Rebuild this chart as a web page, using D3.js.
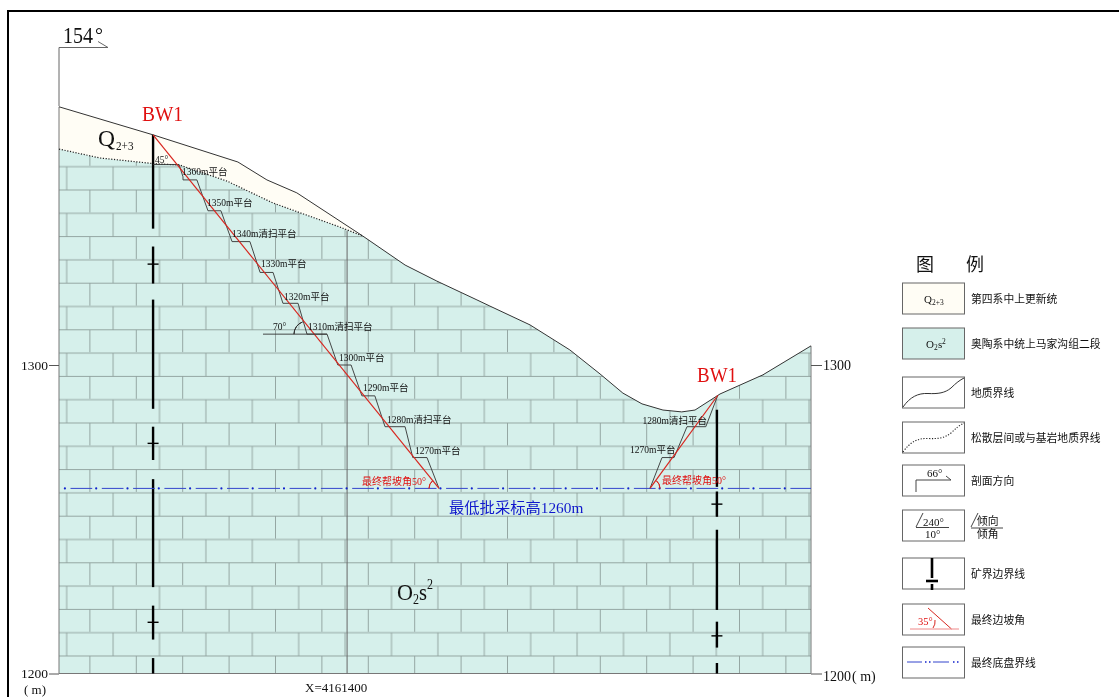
<!DOCTYPE html>
<html>
<head>
<meta charset="utf-8">
<script src="https://cdn.jsdelivr.net/npm/d3@7"></script>
<style>
  html, body { margin: 0; background: #fff; }
  svg { display: block; filter: blur(0.3px); }
  text { font-family: "Liberation Serif", "Noto Sans CJK SC", serif; fill: #111; }
</style>
</head>
<body>
<div id="chart"></div>
<script>
// 地表线 (distance m, elevation m)
const surfaceDist = [0, 30.5, 58, 67.4, 77.1, 98.5, 112.2, 122.5, 135.5, 139.7, 152.7, 165.6, 175.4, 182.8, 189, 195.8, 201.9, 206.2, 214.3, 228.2, 243.8];
const surfaceElev = [1383.7, 1374.6, 1365.8, 1360, 1355.8, 1341.8, 1332.4, 1327.2, 1321.1, 1319.1, 1313, 1304.9, 1297.1, 1290.9, 1287.4, 1285.4, 1284.8, 1285.4, 1290.6, 1296.8, 1306.2];
// 松散层底界
const contactDist = [0, 13.3, 30.5, 39.2, 54.5, 69.4, 91.1, 98.5];
const contactElev = [1370, 1367.1, 1365.3, 1364.8, 1359.6, 1352.5, 1344.7, 1341.8];
// 左帮台阶
const benchLevels = [1360, 1350, 1340, 1330, 1320, 1310, 1300, 1290, 1280, 1270];
const benchFrom = [40.2, 48.3, 56.1, 65.2, 72.6, 80.4, 90.4, 98.2, 105.7, 114.7];
const benchTo = [44.7, 52.5, 61.9, 69.4, 77.5, 86.9, 94.7, 102.4, 112.2, 119.3];
const benchNames = ['1360m平台', '1350m平台', '1340m清扫平台', '1330m平台', '1320m平台', '1310m清扫平台', '1300m平台', '1290m平台', '1280m清扫平台', '1270m平台'];
// 右帮台阶
const rightLevels = [1280, 1270];
const rightFrom = [203.6, 195.5];
const rightTo = [209.7, 199.4];
const rightNames = ['1280m清扫平台', '1270m平台'];
const tickValues = [1200, 1300];
const floorElev = 1260;
const legendNames = ['第四系中上更新统', '奥陶系中统上马家沟组二段', '地质界线', '松散层间或与基岩地质界线', '剖面方向', '', '矿界边界线', '最终边坡角', '最终底盘界线'];
const legendTops = [283, 328, 377, 422, 465, 510, 558, 604, 647];

const svg = d3.select('#chart').append('svg').attr('width', 1119).attr('height', 697);
const x = d3.scaleLinear().domain([0, 243.8]).range([59, 811]);
const y = d3.scaleLinear().domain([1200, 1300]).range([673.5, 365]);

const surface = surfaceDist.map((d, i) => [x(d), y(surfaceElev[i])]);
const contact = contactDist.map((d, i) => [x(d), y(contactElev[i])]);
const line = d3.line();

// 砖块花纹
const pat = svg.append('defs').append('pattern').attr('id', 'brick')
  .attr('patternUnits', 'userSpaceOnUse').attr('x', 65.7).attr('y', 165.7)
  .attr('width', 46.4).attr('height', 46.6);
pat.append('rect').attr('width', 46.4).attr('height', 46.6).attr('fill', '#d6f0eb');
pat.append('path').attr('d', 'M0 1H46.4M0 24.3H46.4M1 1V24.3M24.2 24.3V46.6')
  .attr('stroke', '#8d9e9b').attr('stroke-width', 0.9).attr('fill', 'none');

// 岩层
const rock = contact.concat(surface.slice(6), [[x(243.8), y(1200)], [x(0), y(1200)]]);
svg.append('path').attr('d', line(rock) + 'Z').attr('fill', 'url(#brick)');
const loose = surface.slice(0, 6).concat(contact.slice().reverse());
svg.append('path').attr('d', line(loose) + 'Z').attr('fill', '#fffdf5');

// 边框
svg.append('path').attr('d', 'M8 697V11H1119').attr('fill', 'none').attr('stroke', '#000').attr('stroke-width', 2);

// 图幅边线
svg.append('path').attr('d', line([[x(0), surface[0][1]], [x(0), y(1200)], [x(243.8), y(1200)], [x(243.8), y(1306.2)]]))
  .attr('fill', 'none').attr('stroke', '#777').attr('stroke-width', 1);
svg.append('path').attr('d', line([[x(93.4), y(1343.5)], [x(93.4), y(1200)]]))
  .attr('stroke', '#666').attr('stroke-width', 1).attr('fill', 'none');

// 地表线和松散层界线
svg.append('path').attr('d', line(surface)).attr('fill', 'none').attr('stroke', '#333').attr('stroke-width', 1);
svg.append('path').attr('d', line(contact)).attr('fill', 'none').attr('stroke', '#222')
  .attr('stroke-width', 1.2).attr('stroke-dasharray', '1.2 1.6');

// 坐标轴
const leftAxis = d3.axisLeft(y).tickValues(tickValues).tickSize(10).tickPadding(1).tickFormat(d3.format('d'));
const rightAxis = d3.axisRight(y).tickValues(tickValues).tickSize(11).tickPadding(1).tickFormat(d3.format('d'));
const leftG = svg.append('g').attr('transform', `translate(${x(0)},0)`).call(leftAxis);
const rightG = svg.append('g').attr('transform', `translate(${x(243.8)},0)`).call(rightAxis);
[leftG, rightG].forEach(g => {
  g.select('.domain').remove();
  g.selectAll('line').attr('stroke', '#555');
  g.selectAll('text').attr('font-size', 13.5).attr('fill', '#111');
});
rightG.selectAll('text').attr('font-size', 14).attr('transform', d => d === 1200 ? 'translate(0,3)' : null);
svg.selectAll('g').attr('font-family', null);

function addText(px, py, str, size, color, width) {
  const t = svg.append('text').attr('x', px).attr('y', py).attr('font-size', size).style('fill', color || '#111').text(str);
  if (width) t.attr('textLength', width).attr('lengthAdjust', 'spacingAndGlyphs');
  return t;
}

// 剖面方向
svg.append('path').attr('d', 'M59 106V47.5H108L98 41.5').attr('fill', 'none').attr('stroke', '#666').attr('stroke-width', 1);
addText(63, 43, '154', 22.5, '#111', 30);
addText(95, 42, '°', 22, '#111', 8);

// 矿界边界线
const leftLimitD = 30.5, rightLimitD = 213.3;
const leftLimit = [[1374.6, 1344.2], [1338.4, 1326.4], [1321.2, 1285.8], [1280, 1269.2], [1263, 1228], [1222, 1211], [1205, 1200]];
const rightLimit = [[1285.5, 1260.5], [1259, 1250.8], [1246.6, 1220.6], [1216.8, 1208.4], [1203.4, 1200]];
const leftCross = [1332.7, 1274.6, 1216.6];
const rightCross = [1254.9, 1212.2];
function limit(d, spans, crosses) {
  svg.append('g').selectAll('line').data(spans).join('line')
    .attr('x1', x(d)).attr('x2', x(d)).attr('y1', s => y(s[0])).attr('y2', s => y(s[1]))
    .attr('stroke', '#000').attr('stroke-width', 2.4);
  svg.append('g').selectAll('line').data(crosses).join('line')
    .attr('x1', x(d) - 5.5).attr('x2', x(d) + 5.5).attr('y1', c => y(c)).attr('y2', c => y(c))
    .attr('stroke', '#000').attr('stroke-width', 1.4);
}
limit(leftLimitD, leftLimit, leftCross);
limit(rightLimitD, rightLimit, rightCross);

// 最低批采标高
svg.append('line').attr('x1', 62).attr('x2', 811).attr('y1', y(floorElev)).attr('y2', y(floorElev))
  .attr('stroke', '#3344cc').attr('stroke-width', 1).attr('stroke-dasharray', '0 8.5 21.7 1.1');
svg.append('line').attr('x1', 64.9).attr('x2', 811).attr('y1', y(floorElev)).attr('y2', y(floorElev))
  .attr('stroke', '#1122cc').attr('stroke-width', 2.2).attr('stroke-linecap', 'round').attr('stroke-dasharray', '0 31.3');

// 台阶线
const leftPts = [[30.5, 1365], [38.9, 1365], [40.2, 1361]];
benchLevels.forEach((l, i) => { leftPts.push([benchFrom[i], l], [benchTo[i], l]); });
leftPts.push([123.2, floorElev]);
svg.append('path').attr('d', line(leftPts.map(p => [x(p[0]), y(p[1])])))
  .attr('fill', 'none').attr('stroke', '#333').attr('stroke-width', 0.9);
const rightPts = [[191.6, floorElev]];
rightLevels.slice().reverse().forEach((l, i) => {
  const j = rightLevels.length - 1 - i;
  rightPts.push([rightFrom[j], l], [rightTo[j], l]);
});
rightPts.push([213.6, 1290.2]);
svg.append('path').attr('d', line(rightPts.map(p => [x(p[0]), y(p[1])])))
  .attr('fill', 'none').attr('stroke', '#333').attr('stroke-width', 0.9);

// 最终帮坡线
svg.append('path').attr('d', line([[x(30.5), y(1374.6)], [x(123.2), y(floorElev)]])).attr('stroke', '#d8261f').attr('stroke-width', 1.2).attr('fill', 'none');
svg.append('path').attr('d', line([[x(191.6), y(floorElev)], [x(213.6), y(1290.2)]])).attr('stroke', '#d8261f').attr('stroke-width', 1.2).attr('fill', 'none');

// 坡角圆弧
const arc = d3.arc();
const toeL = [x(123.2), y(floorElev)], toeR = [x(191.6), y(floorElev)];
svg.append('path').attr('transform', `translate(${toeL})`).attr('fill', 'none').attr('stroke', '#d8261f')
  .attr('d', arc({ innerRadius: 10, outerRadius: 10, startAngle: -Math.PI / 2, endAngle: -0.7 }));
svg.append('path').attr('transform', `translate(${toeR})`).attr('fill', 'none').attr('stroke', '#d8261f')
  .attr('d', arc({ innerRadius: 10, outerRadius: 10, startAngle: 0.7, endAngle: Math.PI / 2 }));
svg.append('line').attr('x1', 263).attr('x2', x(86.9)).attr('y1', y(1310)).attr('y2', y(1310)).attr('stroke', '#333').attr('stroke-width', 0.9);
svg.append('path').attr('transform', `translate(${x(80.4)},${y(1310)})`).attr('fill', 'none').attr('stroke', '#333')
  .attr('d', arc({ innerRadius: 13, outerRadius: 13, startAngle: -Math.PI / 2, endAngle: -0.35 }));

// 台阶注记
const labelPosL = [[182, 175], [207, 206], [232, 237], [261, 267], [284, 300], [308, 330], [339, 361], [363, 391], [387, 423], [415, 454]];
svg.append('g').selectAll('text').data(benchNames).join('text')
  .attr('x', (d, i) => labelPosL[i][0]).attr('y', (d, i) => labelPosL[i][1]).attr('font-size', 9.5).text(d => d);
const labelPosR = [[642.5, 424], [630, 453]];
svg.append('g').selectAll('text').data(rightNames).join('text')
  .attr('x', (d, i) => labelPosR[i][0]).attr('y', (d, i) => labelPosR[i][1]).attr('font-size', 9.5).text(d => d);

addText(155, 163, '45°', 9.5);
addText(273, 330, '70°', 9.5);
addText(142, 121, 'BW1', 22, '#e01010', 41);
addText(697, 382, 'BW1', 22, '#e01010', 40);
addText(362, 485, '最终帮坡角50°', 10, '#e01010');
addText(662, 484, '最终帮坡角50°', 10, '#e01010');
addText(449, 513, '最低批采标高1260m', 15.3, '#1018cc');
addText(305, 692, 'X=4161400', 13);
addText(24, 694, '( m)', 13);
addText(852, 681, '( m)', 14);

// 地层代号
addText(98, 146, 'Q', 24, '#111', 17);
addText(116, 150, '2+3', 13, '#111', 17.5);
addText(397, 600, 'O', 24, '#111', 16);
addText(413, 604, '2', 14, '#111', 6);
addText(419, 600, 's', 24, '#111', 8);
addText(427, 589, '2', 14, '#111', 6);

// 图例
addText(916, 271, '图', 18);
addText(966, 271, '例', 18);
const boxFill = ['#fffdf5', '#d6f0eb', '#fff', '#fff', '#fff', '#fff', '#fff', '#fff', '#fff'];
svg.append('g').selectAll('rect').data(legendTops).join('rect')
  .attr('x', 902.5).attr('y', d => d).attr('width', 62).attr('height', 31)
  .attr('fill', (d, i) => boxFill[i]).attr('stroke', '#666').attr('stroke-width', 1);
svg.append('g').selectAll('text').data(legendNames).join('text')
  .attr('x', 971).attr('y', (d, i) => legendTops[i] + 20).attr('font-size', 10.8).text(d => d);
addText(924, 302.5, 'Q', 11);
addText(932, 304.5, '2+3', 7.5);
addText(926, 348, 'O', 11);
addText(934, 350, '2', 7.5);
addText(938, 348, 's', 11);
addText(942, 344, '2', 7.5);
svg.append('path').attr('d', 'M903 407C910 397 918 393 928 393.5C938 394 945 393 951 388C956 383 960 380 964 378')
  .attr('fill', 'none').attr('stroke', '#333');
svg.append('path').attr('d', 'M903 452C910 442 918 438 928 438.5C938 439 945 438 951 433C956 428 960 425 964 423')
  .attr('fill', 'none').attr('stroke', '#222').attr('stroke-width', 1.1).attr('stroke-dasharray', '1.2 1.6');
svg.append('path').attr('d', 'M916 492V480H951L946 476').attr('fill', 'none').attr('stroke', '#444');
addText(927, 477, '66°', 11);
svg.append('path').attr('d', 'M916 527.5H949M916 527L923 513').attr('fill', 'none').attr('stroke', '#444');
addText(923, 525.5, '240°', 11);
addText(925, 538, '10°', 11);
svg.append('path').attr('d', 'M971 528H1003M971 527L978 513').attr('fill', 'none').attr('stroke', '#444');
addText(977, 525, '倾向', 10.8);
addText(977, 538, '倾角', 10.8);
svg.append('path').attr('d', 'M932 558V578M932 584V590').attr('stroke', '#000').attr('stroke-width', 2.6).attr('fill', 'none');
svg.append('path').attr('d', 'M926 581H938').attr('stroke', '#000').attr('stroke-width', 2.6).attr('fill', 'none');
svg.append('path').attr('d', 'M928 608L951.5 629').attr('stroke', '#d8261f').attr('fill', 'none');
svg.append('path').attr('d', 'M910 629H959').attr('stroke', '#e88').attr('fill', 'none');
svg.append('path').attr('d', 'M933 628A11 11 0 0 0 935 620').attr('stroke', '#d8261f').attr('fill', 'none');
addText(918, 625, '35°', 10.5, '#e01010');
svg.append('path').attr('d', 'M907 662H922M933 662H949').attr('stroke', '#3344cc').attr('fill', 'none');
svg.append('path').attr('d', 'M925 662H926.5M929 662H930.5M953 662H954.5M957 662H958.5').attr('stroke', '#1122cc').attr('stroke-width', 1.5).attr('fill', 'none');
</script>
</body>
</html>
